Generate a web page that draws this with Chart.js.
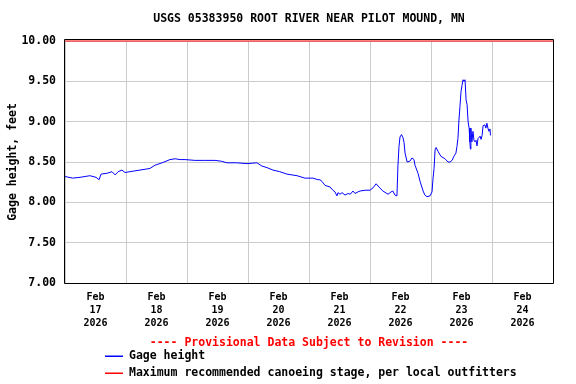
<!DOCTYPE html>
<html>
<head>
<meta charset="utf-8">
<script src="https://cdn.jsdelivr.net/npm/chart.js@4/dist/chart.umd.min.js"></script>
<style>
  html, body { margin: 0; padding: 0; background: #fff; }
  #wrap { width: 576px; height: 384px; }
</style>
</head>
<body>
<div id="wrap"><canvas id="gageChart" width="576" height="384"></canvas></div>
<script>
// hours since Feb 17 2026 00:00
const hours = [
    0, 3, 5.9, 9.8, 12.2, 13.4, 14.2, 16.5, 18.5, 19.7, 20.9, 22.4, 23.6, 25.6, 27.5, 29.5,
    31.5, 33.4, 35.4, 38.2, 41.3, 43.3, 45.3, 47.2, 51.1, 55, 59.0, 61.5, 63.7, 67.5, 71.6,
    75.5, 77.5, 79.5, 81.8, 84.5, 87.3, 91.3, 94.4, 97.6, 99.5, 100.3, 101.1, 102.3, 104.3,
    105.4, 106.2, 107.0, 107.4, 108.2, 109.0, 110.2, 111.4, 112.2, 113.3, 114.1, 115.3, 116.1,
    118.1, 120.0, 121.2, 122.4, 123.5, 125.1, 127.1, 128.3, 129.0, 129.8, 130.6, 131.0, 131.4,
    131.8, 132.4, 133.0, 133.4, 133.8, 134.6, 135.7, 136.5, 137.3, 137.7, 138.9, 139.7, 140.9,
    141.6, 142.4, 143.6, 144.4, 144.8, 145.2, 145.6, 146.0, 146.8, 147.9, 149.5, 150.7, 151.5,
    152.3, 153.0, 153.8, 154.2, 154.6, 155.0, 155.4, 155.8, 156.2, 156.6, 157.0, 157.4, 157.8,
    158.2, 158.6, 159.0, 159.3, 159.5, 159.7, 160.1, 160.5, 160.9, 161.3, 161.7, 162.1, 162.5,
    163.3, 163.7, 164.1, 164.5, 165.2, 165.6, 166.0, 166.4, 166.8, 167.2, 167.4
];
const gageHeight = [
    8.32, 8.30, 8.31, 8.33, 8.31, 8.28, 8.35, 8.36, 8.38, 8.34, 8.38, 8.40, 8.37, 8.38, 8.39, 8.40,
    8.41, 8.42, 8.46, 8.49, 8.53, 8.54, 8.53, 8.53, 8.52, 8.52, 8.52, 8.51, 8.49, 8.49, 8.48,
    8.49, 8.45, 8.43, 8.40, 8.38, 8.35, 8.33, 8.30, 8.30, 8.28, 8.28, 8.26, 8.21, 8.19,
    8.15, 8.13, 8.08, 8.12, 8.10, 8.12, 8.09, 8.11, 8.10, 8.14, 8.11, 8.13, 8.14,
    8.15, 8.15, 8.18, 8.23, 8.19, 8.14, 8.10, 8.13, 8.14, 8.09, 8.08, 8.46, 8.69,
    8.81, 8.84, 8.80, 8.74, 8.61, 8.50, 8.51, 8.55, 8.53, 8.46, 8.36, 8.26, 8.14,
    8.09, 8.07, 8.08, 8.13, 8.30, 8.42, 8.65, 8.68, 8.63, 8.57, 8.54, 8.50, 8.50,
    8.52, 8.57, 8.61, 8.69, 8.79, 9.02, 9.19, 9.37, 9.45, 9.52, 9.50, 9.52, 9.27,
    9.21, 9.00, 8.92, 8.75, 8.66, 8.92, 8.75, 8.88, 8.77, 8.75, 8.77, 8.70, 8.79,
    8.82, 8.78, 8.83, 8.95, 8.96, 8.92, 8.98, 8.92, 8.88, 8.91, 8.83
];
const canoeMax = 10.0;
const dayLabels = ['17', '18', '19', '20', '21', '22', '23', '24'];
const monthLabel = 'Feb';
const yearLabel = '2026';
const titleText = 'USGS 05383950 ROOT RIVER NEAR PILOT MOUND, MN';
const provisionalText = '---- Provisional Data Subject to Revision ----';

const FONT = '"DejaVu Sans Mono", "Liberation Mono", monospace';
const BLUE = '#0000ff';
const RED = '#ff0000';

const gageData = hours.map((h, i) => ({ x: h, y: gageHeight[i] }));
const canoeData = [{ x: 0, y: canoeMax }, { x: dayLabels.length * 24, y: canoeMax }];

// title, frame and legend drawn around the plot area
const framePlugin = {
    id: 'frame',
    afterDraw(chart) {
        const ctx = chart.ctx;
        const a = chart.chartArea;
        ctx.save();
        ctx.strokeStyle = '#000';
        ctx.lineWidth = 1;
        ctx.beginPath();
        ctx.moveTo(a.left - 0.5, a.top - 1.5);
        ctx.lineTo(a.right + 0.5, a.top - 1.5);
        ctx.lineTo(a.right + 0.5, a.bottom + 0.5);
        ctx.lineTo(a.left - 0.5, a.bottom + 0.5);
        ctx.closePath();
        ctx.stroke();

        ctx.font = 'bold 11.5px ' + FONT;
        ctx.textBaseline = 'middle';
        ctx.textAlign = 'center';
        ctx.fillStyle = '#000';
        ctx.fillText(titleText, (a.left + a.right) / 2, 19);

        ctx.fillStyle = RED;
        ctx.fillText(provisionalText, (a.left + a.right) / 2, 343);

        ctx.textAlign = 'left';
        const rows = [356, 373];
        const colors = [BLUE, RED];
        chart.data.datasets.forEach((ds, i) => {
            const y = rows[i];
            ctx.fillStyle = colors[i];
            ctx.fillRect(105, y - 0.5, 18, 1.5);
            ctx.fillStyle = '#000';
            ctx.fillText(ds.label, 129, y);
        });
        ctx.restore();
    }
};

const ctx = document.getElementById('gageChart').getContext('2d');
const gageChart = new Chart(ctx, {
    type: 'line',
    data: {
        datasets: [{
            label: 'Gage height',
            data: gageData,
            borderColor: BLUE,
            borderWidth: 1,
            pointRadius: 0,
            tension: 0
        }, {
            label: 'Maximum recommended canoeing stage, per local outfitters',
            data: canoeData,
            borderColor: RED,
            borderWidth: 1.2,
            pointRadius: 0,
            clip: false
        }]
    },
    options: {
        responsive: false,
        animation: false,
        layout: { padding: { top: 41, right: 23, left: 0, bottom: 0 } },
        plugins: {
            legend: { display: false },
            tooltip: { enabled: false },
            title: { display: false }
        },
        scales: {
            x: {
                type: 'linear',
                min: 0,
                max: dayLabels.length * 24,
                afterFit: (scale) => { scale.height = 101; },
                grid: { color: '#cccccc', drawTicks: false },
                border: { display: false },
                ticks: {
                    stepSize: 24,
                    autoSkip: false,
                    maxRotation: 0,
                    padding: 8,
                    labelOffset: 30.5,
                    color: '#000',
                    font: { family: FONT, size: 10, weight: 'bold', lineHeight: 1.3 },
                    callback: (v) => {
                        const i = Math.round(v / 24);
                        return i < dayLabels.length ? [monthLabel, dayLabels[i], yearLabel] : '';
                    }
                }
            },
            y: {
                min: 7,
                max: 10,
                afterFit: (scale) => { scale.width = 65; },
                grid: { color: '#cccccc', drawTicks: false },
                border: { display: false },
                ticks: {
                    stepSize: 0.5,
                    padding: 9,
                    color: '#000',
                    font: { family: FONT, size: 11.5, weight: 'bold' },
                    callback: (v) => v.toFixed(2)
                },
                title: {
                    display: true,
                    text: 'Gage height, feet',
                    color: '#000',
                    padding: { top: 6, bottom: 0 },
                    font: { family: FONT, size: 11.5, weight: 'bold' }
                }
            }
        }
    },
    plugins: [framePlugin]
});
</script>
</body>
</html>
